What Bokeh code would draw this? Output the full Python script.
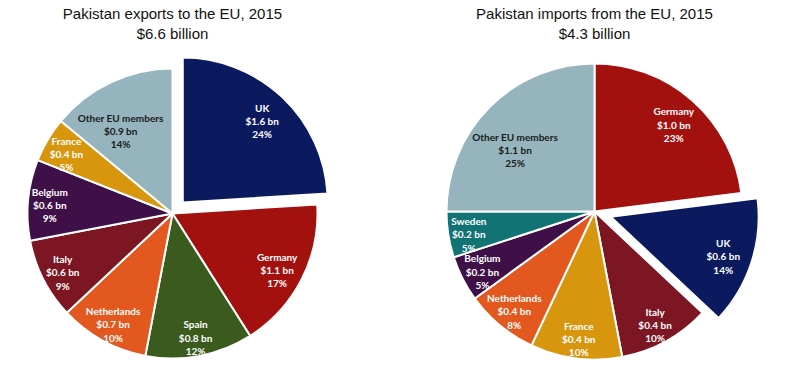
import math
from bokeh.plotting import figure
from bokeh.models import Range1d, ColumnDataSource
from bokeh.core.properties import value
from bokeh.embed import file_html
from bokeh.resources import INLINE

# ---- data ----
exp_names = ["UK", "Germany", "Spain", "Netherlands", "Italy", "Belgium", "France", "Other EU members"]
exp_values = [1.6, 1.1, 0.8, 0.7, 0.6, 0.6, 0.4, 0.9]
exp_pct = [24, 17, 12, 10, 9, 9, 5, 14]
exp_title = ["Pakistan exports to the EU, 2015", "$6.6 billion"]

imp_names = ["Germany", "UK", "Italy", "France", "Netherlands", "Belgium", "Sweden", "Other EU members"]
imp_values = [1.0, 0.6, 0.4, 0.4, 0.4, 0.2, 0.2, 1.1]
imp_pct = [23, 14, 10, 10, 8, 5, 5, 25]
imp_title = ["Pakistan imports from the EU, 2015", "$4.3 billion"]

# ---- styles ----
COLORS = {
    "UK": "#0B1A5E", "Germany": "#A3110F", "Spain": "#3B5B1E", "Netherlands": "#E2581E",
    "Italy": "#7B1622", "Belgium": "#3F1048", "France": "#D8960E",
    "Other EU members": "#95B4BD", "Sweden": "#117373",
}
EXPLODE = {"UK": 1}
LABEL_FRAC = {"Other EU members": 0.69, "UK": 0.80, "Germany": 0.81, "Sweden": 0.86}
LABEL_ROT = {"Other EU members": math.radians(6)}

W, H = 789, 376
p = figure(width=W, height=H, output_backend="svg", toolbar_location=None,
           x_range=Range1d(0, W), y_range=Range1d(0, H), min_border=0)
p.axis.visible = False
p.grid.visible = False
p.outline_line_color = None
p.background_fill_color = "white"
p.border_fill_color = "white"


def draw_pie(names, vals, pct, title, cx, cy, r, explode_px):
    total = float(sum(pct))
    cum = 0.0
    xs, ys, sa, ea, cols = [], [], [], [], []
    lx, ly, lt, lc = [], [], [], []
    for n, v, pc in zip(names, vals, pct):
        a0 = math.pi / 2 - 2 * math.pi * cum / total
        cum += pc
        a1 = math.pi / 2 - 2 * math.pi * cum / total
        mid = (a0 + a1) / 2
        off = explode_px if n in EXPLODE else 0
        x0 = cx + off * math.cos(mid)
        y0 = cy + off * math.sin(mid)
        xs.append(x0); ys.append(y0); sa.append(a1); ea.append(a0); cols.append(COLORS[n])
        f = LABEL_FRAC.get(n, 0.85)
        la = mid + LABEL_ROT.get(n, 0.0)
        lx.append(x0 + f * r * math.cos(la))
        ly.append(y0 + f * r * math.sin(la))
        lt.append(f"{n}\n${v:.1f} bn\n{pc}%")
        lc.append("#1a1a1a" if n == "Other EU members" else "white")
    src = ColumnDataSource(dict(x=xs, y=ys, sa=sa, ea=ea, c=cols))
    p.wedge(x="x", y="y", radius=r, start_angle="sa", end_angle="ea", fill_color="c",
            line_color="white", line_width=2, source=src)
    lsrc = ColumnDataSource(dict(x=lx, y=ly, t=lt, c=lc))
    p.text(x="x", y="y", text="t", text_color="c", text_font=value("Lato"),
           text_font_style="bold", text_font_size="10px", text_align="center",
           text_baseline="middle", text_line_height=1.1, y_offset=3, source=lsrc)
    p.text(x=[cx, cx], y=[H - 13, H - 33], text=title, text_font=value("Liberation Sans"),
           text_font_size="15px", text_color="#111111", text_align="center",
           text_baseline="middle")


draw_pie(exp_names, exp_values, exp_pct, exp_title, 172, H - 213, 145, 15)
draw_pie(imp_names, imp_values, imp_pct, imp_title, 594, H - 211, 148, 17)

open("out.html", "w").write(file_html(p, INLINE))
